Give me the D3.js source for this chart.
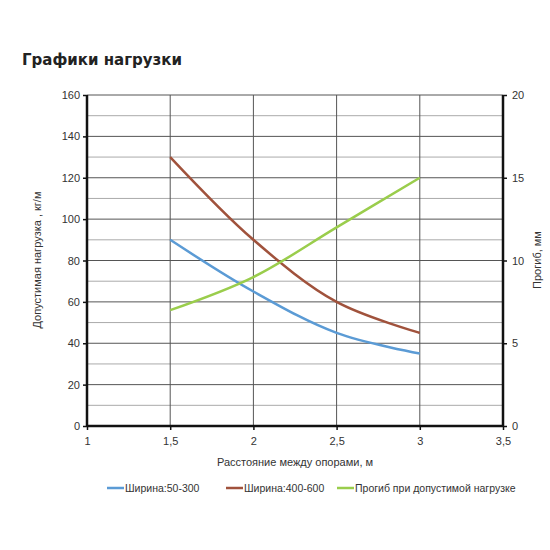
<!DOCTYPE html>
<html><head><meta charset="utf-8">
<script src="https://cdn.jsdelivr.net/npm/d3@7"></script>
<style>body{margin:0;background:#fff}svg{font-family:"Liberation Sans",Arial,sans-serif}</style>
</head><body><svg id="c" width="550" height="550"></svg>
<script>
const distances = [1.5, 2, 2.5, 3];
const width50_300 = [90, 65, 45, 35];
const width400_600 = [130, 90, 60, 45];
const deflection = [7, 9, 12, 15];
const seriesNames = ["Ширина:50-300", "Ширина:400-600", "Прогиб при допустимой нагрузке"];
const xTicks = [1, 1.5, 2, 2.5, 3, 3.5];
const yTicks = [0, 20, 40, 60, 80, 100, 120, 140, 160];
const y2Ticks = [0, 5, 10, 15, 20];
const colors = ["#5B9BD5", "#A0523C", "#9ACD4C"];

const svg = d3.select("#c");
const L = 87, R = 503, T = 95, B = 426;
const x = d3.scaleLinear().domain([1, 3.5]).range([L, R]);
const y = d3.scaleLinear().domain([0, 160]).range([B, T]);
const y2 = d3.scaleLinear().domain([0, 20]).range([B, T]);

svg.append("text").attr("x", 22).attr("y", 65).attr("font-size", 15).attr("font-weight", "bold")
  .attr("font-family", "'DejaVu Sans',Verdana,sans-serif").attr("fill", "#222").text("Графики нагрузки");

// horizontal grid
const minor = d3.range(0, 161, 10);
svg.append("g").selectAll("line").data(minor).join("line")
  .attr("x1", L).attr("x2", R).attr("y1", d => y(d)).attr("y2", d => y(d))
  .attr("stroke", d => d % 20 === 0 ? "#555" : "#aaa").attr("stroke-width", 1);
// vertical grid
svg.append("g").selectAll("line").data(xTicks.slice(1, -1)).join("line")
  .attr("x1", d => x(d)).attr("x2", d => x(d)).attr("y1", T).attr("y2", B)
  .attr("stroke", "#555").attr("stroke-width", 1);

// axes
const ax = svg.append("g").attr("transform", `translate(0,${B})`)
  .call(d3.axisBottom(x).tickValues(xTicks).tickFormat(d => String(d).replace(".", ",")).tickSize(4));
const ay = svg.append("g").attr("transform", `translate(${L},0)`)
  .call(d3.axisLeft(y).tickValues(yTicks).tickSize(4));
const ay2 = svg.append("g").attr("transform", `translate(${R},0)`)
  .call(d3.axisRight(y2).tickValues(y2Ticks).tickSize(4));
[ax, ay, ay2].forEach(g => {
  g.select(".domain").attr("stroke", "#111").attr("stroke-width", 2.5);
  g.selectAll(".tick line").attr("stroke", "#111").attr("stroke-width", 1.5);
  g.selectAll("text").attr("font-size", 11).attr("fill", "#333")
    .attr("font-family", "'Liberation Sans',Arial,sans-serif");
});
ax.select(".domain").attr("d", `M${L},0H${R}`);
ay.select(".domain").attr("d", `M0,${T}V${B}`);
ay2.select(".domain").attr("d", `M0,${T}V${B}`);
ax.selectAll("text").attr("dy", "1.1em");
ay.selectAll("text").attr("x", -7);
ay2.selectAll("text").attr("x", 9);

// axis titles
svg.append("text").attr("x", 295).attr("y", 466).attr("text-anchor", "middle").attr("font-size", 11)
  .attr("fill", "#333").text("Расстояние между опорами, м");
svg.append("text").attr("transform", "translate(41,260) rotate(-90)").attr("text-anchor", "middle")
  .attr("font-size", 11).attr("fill", "#333").text("Допустимая нагрузка , кг/м");
svg.append("text").attr("transform", "translate(541,260) rotate(-90)").attr("text-anchor", "middle")
  .attr("font-size", 11).attr("fill", "#333").text("Прогиб, мм");

// lines
const mk = (ys, sc) => d3.line().x((d, i) => x(distances[i])).y(d => sc(d)).curve(d3.curveCatmullRom.alpha(0.5))(ys);
[[width50_300, y], [width400_600, y], [deflection, y2]].forEach(([ys, sc], i) => {
  svg.append("path").attr("d", mk(ys, sc)).attr("fill", "none").attr("stroke", colors[i]).attr("stroke-width", 2.5);
});

// legend
const legX = [107, 226, 337];
seriesNames.forEach((n, i) => {
  svg.append("line").attr("x1", legX[i]).attr("x2", legX[i] + 17).attr("y1", 488).attr("y2", 488)
    .attr("stroke", colors[i]).attr("stroke-width", 2.5);
  svg.append("text").attr("x", legX[i] + 18).attr("y", 492).attr("font-size", 10.5).attr("fill", "#333").text(n);
});
</script></body></html>
